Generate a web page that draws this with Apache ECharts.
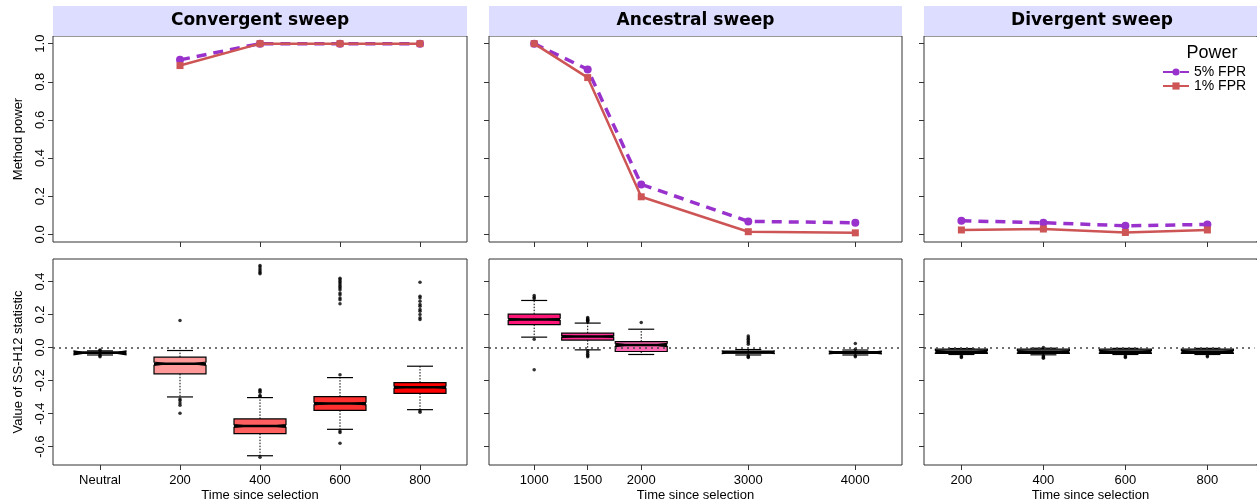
<!DOCTYPE html>
<html>
<head>
<meta charset="utf-8">
<script src="https://cdn.jsdelivr.net/npm/echarts@6/dist/echarts.min.js"></script>
<style>
  html, body { margin: 0; padding: 0; background: #fff; }
  #main { width: 1257px; height: 503px; }
</style>
</head>
<body>
<div id="main"></div>
<script>
// categories / tick labels
var convCats = ['Neutral', '200', '400', '600', '800'];
var ancTimes = [1000, 1500, 2000, 3000, 4000];
var divCats = ['200', '400', '600', '800'];
var powerTicks = [0, 0.2, 0.4, 0.6, 0.8, 1.0];
var statTicks = [-0.6, -0.4, -0.2, 0, 0.2, 0.4];

// method power (top row)
var convPow5 = [[1, 0.915], [2, 1.0], [3, 1.0], [4, 1.0]];
var convPow1 = [[1, 0.885], [2, 1.0], [3, 1.0], [4, 1.0]];
var ancPow5 = [[1000, 1.0], [1500, 0.865], [2000, 0.262], [3000, 0.068], [4000, 0.061]];
var ancPow1 = [[1000, 1.0], [1500, 0.822], [2000, 0.197], [3000, 0.014], [4000, 0.008]];
var divPow5 = [[0, 0.071], [1, 0.061], [2, 0.045], [3, 0.052]];
var divPow1 = [[0, 0.023], [1, 0.028], [2, 0.01], [3, 0.023]];

// boxplots: [position, lower whisker, Q1, median, Q3, upper whisker, notch half-height]
var convBox = [
  [0, -0.045, -0.036, -0.032, -0.028, -0.02, 0.012],
  [1, -0.299, -0.159, -0.098, -0.058, -0.018, 0.01],
  [2, -0.655, -0.521, -0.475, -0.432, -0.303, 0.008],
  [3, -0.495, -0.38, -0.339, -0.297, -0.182, 0.008],
  [4, -0.376, -0.277, -0.24, -0.212, -0.113, 0.007]
];
var ancBox = [
  [1000, 0.063, 0.139, 0.17, 0.202, 0.285, 0.007],
  [1500, -0.014, 0.045, 0.067, 0.087, 0.148, 0.005],
  [2000, -0.042, -0.024, 0.016, 0.036, 0.111, 0.01],
  [3000, -0.045, -0.034, -0.029, -0.022, -0.012, 0.008],
  [4000, -0.045, -0.035, -0.03, -0.025, -0.015, 0.008]
];
var divBox = [
  [0, -0.042, -0.035, -0.025, -0.01, -0.006, 0.008],
  [1, -0.044, -0.036, -0.026, -0.01, -0.004, 0.008],
  [2, -0.042, -0.035, -0.025, -0.01, -0.005, 0.008],
  [3, -0.042, -0.035, -0.025, -0.01, -0.005, 0.008]
];

// outliers
var convOut = [
  [0, [-0.015, -0.018, -0.045, -0.05, -0.055]],
  [1, [0.164, -0.311, -0.32, -0.335, -0.35, -0.398]],
  [2, [0.497, 0.487, 0.475, 0.465, 0.455, 0.447, -0.256, -0.262, -0.27, -0.29, -0.295, -0.664]],
  [3, [0.42, 0.41, 0.4, 0.39, 0.38, 0.37, 0.36, 0.35, 0.33, 0.32, 0.3, 0.29, 0.265, -0.165, -0.505, -0.515, -0.58]],
  [4, [0.396, 0.31, 0.3, 0.28, 0.26, 0.25, 0.23, 0.22, 0.2, 0.18, 0.17, -0.383, -0.392]]
];
var ancOut = [
  [1000, [0.295, 0.305, 0.315, 0.05, -0.135]],
  [1500, [0.155, 0.16, 0.165, 0.17, 0.175, 0.182, -0.02, -0.03, -0.04, -0.05, -0.055]],
  [2000, [0.152]],
  [3000, [0.07, 0.06, 0.05, 0.04, 0.03, 0.02, -0.05, -0.055, -0.06]],
  [4000, [0.024, -0.01, -0.05, -0.055]]
];
var divOut = [
  [0, [-0.05, -0.055, -0.06]],
  [1, [0.0, -0.05, -0.055, -0.06, -0.065]],
  [2, [-0.05, -0.055, -0.06]],
  [3, [-0.05, -0.055]]
];

var convColors = ['#444444', '#FF9999', '#FF5F5F', '#FF3030', '#FF0000'];
var ancColors = ['#FF1478', '#FF2E93', '#FF69B4', '#555555', '#555555'];
var divColors = ['#888888', '#888888', '#888888', '#888888'];

var FONT = 'Liberation Sans';
var C5 = '#9932CC';
var C1 = '#CD5555';

// panel columns (the last one runs off the right edge of the picture)
var cols = [
  { left: 53, right: 790, title: 'Convergent sweep' },
  { left: 489, right: 355, title: 'Ancestral sweep' },
  { left: 924, right: 0, title: 'Divergent sweep' }
];
var xRanges = [[-0.5875, 4.5875], [578, 4436], [-0.456, 3.605]];

function flatten(list) {
  var out = [];
  list.forEach(function (g) {
    g[1].forEach(function (v) { out.push([g[0], v]); });
  });
  return out;
}

function boxRender(colors) {
  return function (params, api) {
    var x = api.value(0);
    var y = function (v) { return api.coord([x, v])[1]; };
    var cx = api.coord([x, api.value(3)])[0];
    var lo = y(api.value(1)), q1 = y(api.value(2)), md = y(api.value(3));
    var q3 = y(api.value(4)), hi = y(api.value(5));
    var nlo = y(api.value(3) - api.value(6)), nhi = y(api.value(3) + api.value(6));
    var w = 26;
    var dot = { stroke: '#000', lineWidth: 1, lineDash: [1.5, 1.5] };
    var solid = { stroke: '#000', lineWidth: 1.2 };
    return {
      type: 'group',
      children: [
        { type: 'line', shape: { x1: cx, y1: q3, x2: cx, y2: hi }, style: dot },
        { type: 'line', shape: { x1: cx, y1: q1, x2: cx, y2: lo }, style: dot },
        { type: 'line', shape: { x1: cx - 13, y1: hi, x2: cx + 13, y2: hi }, style: solid },
        { type: 'line', shape: { x1: cx - 13, y1: lo, x2: cx + 13, y2: lo }, style: solid },
        {
          type: 'polygon',
          shape: {
            points: [
              [cx - w, q1], [cx + w, q1], [cx + w, nlo], [cx + w / 2, md], [cx + w, nhi],
              [cx + w, q3], [cx - w, q3], [cx - w, nhi], [cx - w / 2, md], [cx - w, nlo]
            ]
          },
          style: { fill: colors[params.dataIndex], stroke: '#000', lineWidth: 1.2 }
        },
        { type: 'line', shape: { x1: cx - w, y1: md, x2: cx + w, y2: md }, style: { stroke: '#000', lineWidth: 2.5 } }
      ]
    };
  };
}

var grids = [];
var xAxes = [];
var yAxes = [];
var graphics = [];

cols.forEach(function (c, i) {
  grids.push({ left: c.left, right: c.right, top: 36, height: 206, show: true, borderColor: '#333', borderWidth: 1, backgroundColor: '#fff' });
  var w = 1257 - c.right - c.left;
  graphics.push({
    type: 'rect', shape: { x: c.left, y: 6, width: w, height: 30 },
    style: { fill: '#DDDDFF' }, z: 0
  });
  graphics.push({
    type: 'text', x: i === 2 ? 1092 : c.left + w / 2, y: 21,
    style: { text: c.title, font: 'bold 17px "DejaVu Sans"', fill: '#000', align: 'center', verticalAlign: 'middle' }
  });
});
cols.forEach(function (c) {
  grids.push({ left: c.left, right: c.right, top: 259, height: 206, show: true, borderColor: '#333', borderWidth: 1 });
});

// the right frame of the last column lies outside the picture: hide it
graphics.push({ type: 'rect', shape: { x: 1254.5, y: 37, width: 4, height: 204 }, style: { fill: '#fff' }, z: 100 });
graphics.push({ type: 'rect', shape: { x: 1254.5, y: 260, width: 4, height: 204 }, style: { fill: '#fff' }, z: 100 });

var topTicks = [[1, 2, 3, 4], ancTimes, [0, 1, 2, 3]];
var botTicks = [[0, 1, 2, 3, 4], ancTimes, [0, 1, 2, 3]];
var labelFns = [
  function (v) { return convCats[Math.round(v)]; },
  function (v) { return String(v); },
  function (v) { return divCats[Math.round(v)]; }
];

for (var r = 0; r < 2; r++) {
  for (var i = 0; i < 3; i++) {
    var gi = r * 3 + i;
    var ticks = r === 0 ? topTicks[i] : botTicks[i];
    xAxes.push({
      type: 'value', gridIndex: gi, min: xRanges[i][0], max: xRanges[i][1],
      axisLine: { show: false, onZero: false },
      splitLine: { show: false },
      axisTick: { show: true, length: 5, customValues: ticks, lineStyle: { color: '#333' } },
      axisLabel: {
        show: r === 1, customValues: ticks, formatter: labelFns[i], margin: 9,
        fontFamily: FONT, fontSize: 13, color: '#000'
      },
      name: r === 1 ? 'Time since selection' : '', nameLocation: 'middle', nameGap: 24,
      nameTextStyle: { fontFamily: FONT, fontSize: 13, color: '#000' }
    });
    var yt = r === 0 ? powerTicks : statTicks;
    yAxes.push({
      type: 'value', gridIndex: gi,
      min: r === 0 ? -0.04 : -0.711, max: r === 0 ? 1.04 : 0.536,
      axisLine: { show: false, onZero: false },
      splitLine: { show: false },
      axisTick: { show: true, length: 5, customValues: yt, lineStyle: { color: '#333' } },
      axisLabel: {
        show: i === 0, customValues: yt, rotate: 90, margin: 6,
        formatter: function (v) { return v.toFixed(1); },
        fontFamily: FONT, fontSize: 13, color: '#000'
      },
      name: i === 0 ? (r === 0 ? 'Method power' : 'Value of SS-H12 statistic') : '',
      nameLocation: 'middle', nameRotate: 90, nameGap: 28,
      nameTextStyle: { fontFamily: FONT, fontSize: 13, color: '#000' }
    });
  }
}

function powerSeries(gi, d5, d1) {
  return [
    {
      name: '5% FPR', type: 'line', xAxisIndex: gi, yAxisIndex: gi, data: d5,
      symbol: 'circle', symbolSize: 8, itemStyle: { color: C5 },
      lineStyle: { color: C5, width: 3.5, type: [10, 7] }, z: 3
    },
    {
      name: '1% FPR', type: 'line', xAxisIndex: gi, yAxisIndex: gi, data: d1,
      symbol: 'rect', symbolSize: 7, itemStyle: { color: C1 },
      lineStyle: { color: C1, width: 2.5 }, z: 4
    }
  ];
}

function boxSeries(gi, boxes, outs, colors) {
  return [
    {
      type: 'custom', xAxisIndex: gi, yAxisIndex: gi, data: boxes,
      renderItem: boxRender(colors), encode: { x: 0, y: [1, 2, 3, 4, 5] }, z: 2, silent: true
    },
    {
      type: 'scatter', xAxisIndex: gi, yAxisIndex: gi, data: flatten(outs),
      symbol: 'circle', symbolSize: 3.5, itemStyle: { color: '#000' }, z: 3, silent: true,
      markLine: {
        silent: true, symbol: 'none', label: { show: false },
        lineStyle: { color: '#444', width: 1.5, type: [2, 4] },
        data: [{ yAxis: 0 }], z: 5
      }
    }
  ];
}

var series = []
  .concat(powerSeries(0, convPow5, convPow1))
  .concat(powerSeries(1, ancPow5, ancPow1))
  .concat(powerSeries(2, divPow5, divPow1))
  .concat(boxSeries(3, convBox, convOut, convColors))
  .concat(boxSeries(4, ancBox, ancOut, ancColors))
  .concat(boxSeries(5, divBox, divOut, divColors));

graphics.push({
  type: 'text', x: 1212, y: 53,
  style: { text: 'Power', font: '18px "Liberation Sans"', fill: '#000', align: 'center', verticalAlign: 'middle' }
});

var chart = echarts.init(document.getElementById('main'), null, { renderer: 'canvas' });
chart.setOption({
  animation: false,
  backgroundColor: '#fff',
  grid: grids,
  xAxis: xAxes,
  yAxis: yAxes,
  legend: {
    data: ['5% FPR', '1% FPR'],
    orient: 'vertical', left: 1157, top: 60,
    itemWidth: 26, itemHeight: 9, itemGap: 0,
    textStyle: { fontFamily: FONT, fontSize: 14, color: '#000', lineHeight: 13 }
  },
  graphic: graphics,
  series: series
});
</script>
</body>
</html>
